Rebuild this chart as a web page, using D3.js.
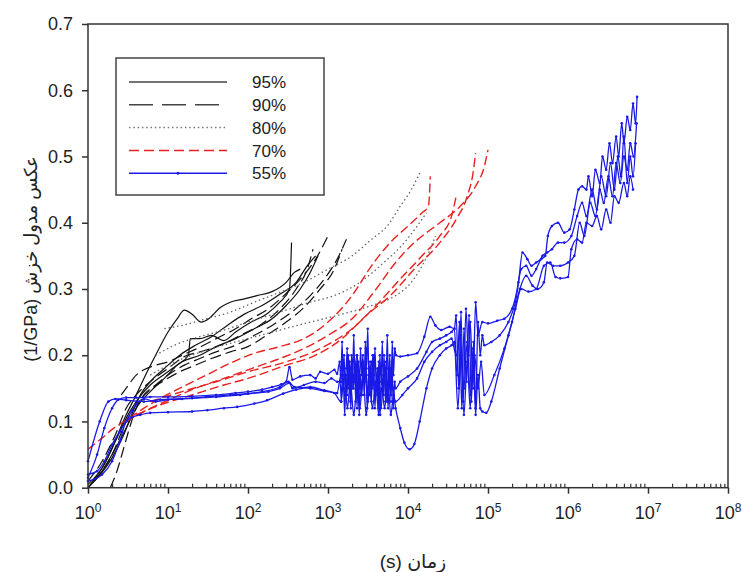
<!DOCTYPE html>
<html>
<head>
<meta charset="utf-8">
<script src="https://cdn.jsdelivr.net/npm/d3@7"></script>
<style>
  body { margin: 0; background: #fff; }
  text { font-family: "Liberation Sans", Arial, "DejaVu Sans", sans-serif; fill: #222; }
</style>
</head>
<body>
<svg id="chart"></svg>
<script>
// tick values
const xTickPowers = [0, 1, 2, 3, 4, 5, 6, 7, 8];
const yTickValues = [0, 0.1, 0.2, 0.3, 0.4, 0.5, 0.6, 0.7];
const legendLabels = ['95%', '90%', '80%', '70%', '55%'];

// each series: list of curves, each curve = [time (s), compliance (1/GPa)]
const rh95 = [
    [[1,0],[1.5,0.03],[2,0.06],[3,0.11],[4,0.14],[5,0.165],[7,0.2],[10,0.235],[13,0.255],[16,0.268],[20,0.262],[26,0.25],[33,0.256],[45,0.272],[60,0.28],[90,0.285],[130,0.29],[200,0.296],[300,0.31],[380,0.325],[450,0.33]],
    [[1,0],[1.5,0.025],[2,0.05],[3,0.09],[4,0.12],[6,0.145],[9,0.165],[13,0.185],[18,0.2],[19,0.225],[25,0.225],[35,0.23],[50,0.222],[70,0.235],[110,0.25],[170,0.262],[250,0.28],[330,0.3],[350,0.37]],
    [[1,0.005],[1.6,0.035],[2.2,0.07],[3,0.105],[4,0.13],[6,0.155],[10,0.175],[15,0.19],[25,0.2],[40,0.213],[70,0.225],[120,0.24],[200,0.255],[300,0.275],[450,0.3],[600,0.325],[750,0.35]],
    [[1,0],[2,0.045],[2.8,0.08],[3.5,0.11],[4.5,0.14],[6,0.16],[9,0.18],[14,0.2],[22,0.215],[35,0.228],[55,0.245],[90,0.262],[150,0.275],[250,0.292],[400,0.31],[550,0.335],[700,0.35]]
];
const rh90 = [
    [[1.9,0],[2.3,0.025],[2.8,0.06],[3.3,0.09],[4,0.12],[5,0.14],[7,0.155],[10,0.17],[16,0.185],[25,0.195],[40,0.205],[70,0.215],[120,0.23],[200,0.245],[350,0.265],[600,0.29],[900,0.315],[1300,0.345],[1700,0.375]],
    [[2.6,0.14],[3.2,0.155],[4,0.17],[5,0.178],[7,0.185],[10,0.19],[15,0.2],[25,0.212],[40,0.225],[70,0.24],[110,0.255],[180,0.27],[280,0.29],[450,0.315],[700,0.345],[1000,0.38]],
    [[1.2,0.01],[2,0.05],[3,0.1],[4,0.125],[6,0.148],[9,0.162],[14,0.175],[22,0.185],[35,0.195],[60,0.205],[100,0.213],[170,0.23],[300,0.25],[500,0.272],[800,0.3],[1200,0.33],[1500,0.36]],
    [[1,0.01],[1.5,0.04],[2.2,0.08],[3,0.12],[4,0.14],[6,0.16],[10,0.18],[16,0.198],[25,0.205],[45,0.215],[80,0.23],[140,0.245],[250,0.27],[400,0.3],[550,0.33],[650,0.36]]
];
const rh80 = [
    [[9,0.24],[15,0.245],[30,0.255],[60,0.265],[120,0.28],[250,0.295],[500,0.31],[1000,0.33],[2000,0.35],[3500,0.375],[5500,0.395],[8000,0.425],[11000,0.45],[14000,0.475]],
    [[7,0.2],[12,0.215],[25,0.228],[50,0.238],[100,0.25],[250,0.265],[600,0.28],[1200,0.29],[2500,0.31],[5000,0.34],[9000,0.37],[13000,0.395],[17000,0.415]],
    [[6,0.17],[10,0.185],[20,0.2],[40,0.212],[100,0.225],[250,0.238],[600,0.25],[1500,0.262],[3500,0.275],[7000,0.29],[11000,0.31],[15000,0.335],[19000,0.36],[22000,0.38]]
];
const rh70 = [
    [[1,0.058],[1.5,0.075],[2,0.088],[3,0.102],[5,0.12],[8,0.135],[15,0.152],[30,0.17],[60,0.188],[120,0.203],[250,0.213],[500,0.225],[1000,0.25],[2000,0.29],[3500,0.335],[6000,0.37],[10000,0.395],[15000,0.415],[18000,0.425],[19000,0.47]],
    [[3,0.1],[5,0.115],[10,0.132],[20,0.148],[50,0.165],[100,0.178],[250,0.195],[500,0.21],[1000,0.23],[2000,0.255],[4000,0.3],[7000,0.34],[12000,0.37],[25000,0.4],[45000,0.425],[70000,0.455],[90000,0.485],[100000,0.51]],
    [[4,0.11],[8,0.125],[20,0.14],[50,0.155],[100,0.165],[300,0.185],[700,0.2],[1500,0.225],[3000,0.26],[6000,0.29],[12000,0.33],[25000,0.37],[40000,0.405],[55000,0.44],[65000,0.475],[70000,0.505]],
    [[6,0.13],[15,0.145],[40,0.16],[100,0.175],[300,0.19],[800,0.21],[2000,0.24],[4000,0.275],[8000,0.315],[15000,0.35],[25000,0.38],[35000,0.41],[40000,0.44]]
];
const rh55 = [
    [[1,0.015],[1.3,0.05],[1.6,0.09],[2,0.12],[2.4,0.133],[3,0.136],[4,0.136],[6,0.137],[10,0.137],[20,0.138],[40,0.14],[70,0.143],[100,0.145],[150,0.148],[200,0.152],[260,0.156],[300,0.16],[330,0.182],[360,0.163],[450,0.168],[600,0.17],[700,0.165],[800,0.175],[1000,0.172],[1200,0.178],[1300,0.172],
     [1400,0.19],[1450,0.16],[1500,0.22],[1540,0.17],[1590,0.2],[1640,0.14],[1690,0.18],[1740,0.21],[1790,0.15],[1850,0.19],[1910,0.13],[1970,0.2],[2030,0.17],[2100,0.23],[2170,0.16],[2240,0.18],[2310,0.12],[2390,0.19],[2470,0.15],[2550,0.21],[2640,0.17],[2730,0.2],[2830,0.14],[2930,0.22],[3030,0.18],[3140,0.24],[3250,0.16],[3370,0.19],[3490,0.13],[3610,0.2],[3740,0.17],[3870,0.21],[4010,0.15],[4150,0.18],[4300,0.12],[4450,0.2],[4610,0.16],[4780,0.22],[4950,0.14],[5130,0.19],[5320,0.16],[5510,0.23],[5710,0.15],[5920,0.2],[6130,0.13],[6350,0.22],[6580,0.17],[6820,0.21],[7100,0.2],
     [8000,0.198],[1e4,0.2],[1.3e4,0.203],[1.6e4,0.228],[1.9e4,0.258],[2.2e4,0.245],[2.6e4,0.238],[3.3e4,0.243],[3.8e4,0.24],
     [4e4,0.26],[4.3e4,0.15],[4.6e4,0.265],[4.9e4,0.13],[5.3e4,0.27],[5.7e4,0.2],[6e4,0.25],[6.5e4,0.15],[7e4,0.28],[7.5e4,0.23],[8.5e4,0.25],
     [1e5,0.248],[1.3e5,0.252],[1.6e5,0.255],[2e5,0.27],[2.4e5,0.31],[2.7e5,0.355],[3.1e5,0.345],[3.5e5,0.335],[4e5,0.34],[4.6e5,0.345],[5.2e5,0.35],[5.6e5,0.38],[6.3e5,0.395],[7.5e5,0.4],[9e5,0.385],[1.05e6,0.39],[1.2e6,0.42],[1.35e6,0.45],[1.5e6,0.455],[1.7e6,0.45],[1.8e6,0.47],[2e6,0.44],[2.2e6,0.48],[2.5e6,0.46],[2.7e6,0.5],[3e6,0.48],[3.3e6,0.52],[3.6e6,0.49],[4e6,0.53],[4.3e6,0.5],[4.7e6,0.55],[5e6,0.52],[5.5e6,0.56],[6e6,0.54],[6.5e6,0.58],[7e6,0.55],[7.3e6,0.59]],
    [[1,0.04],[1.4,0.1],[1.8,0.13],[2.2,0.134],[3,0.132],[5,0.13],[8,0.133],[15,0.134],[30,0.137],[60,0.14],[100,0.142],[180,0.145],[250,0.15],[330,0.158],[360,0.15],[500,0.155],[700,0.16],[900,0.158],[1100,0.165],[1300,0.16],
     [1420,0.16],[1470,0.13],[1520,0.18],[1570,0.15],[1620,0.11],[1680,0.17],[1730,0.14],[1800,0.2],[1860,0.16],[1930,0.12],[2000,0.18],[2070,0.15],[2140,0.19],[2220,0.13],[2300,0.2],[2380,0.16],[2460,0.11],[2550,0.17],[2650,0.14],[2750,0.19],[2860,0.16],[2970,0.21],[3080,0.12],[3200,0.17],[3320,0.14],[3450,0.18],[3580,0.15],[3720,0.2],[3860,0.12],[4000,0.16],[4160,0.14],[4320,0.19],[4490,0.11],[4660,0.17],[4840,0.15],[5030,0.2],[5220,0.13],[5420,0.18],[5630,0.12],[5850,0.17],[6080,0.14],[6310,0.19],[6550,0.12],[6800,0.16],[7000,0.15],
     [8000,0.16],[1e4,0.168],[1.3e4,0.18],[1.7e4,0.205],[2e4,0.22],[2.5e4,0.225],[3e4,0.23],[3.5e4,0.235],
     [3.8e4,0.24],[4.1e4,0.17],[4.4e4,0.25],[4.7e4,0.12],[5e4,0.24],[5.4e4,0.16],[5.8e4,0.26],[6.2e4,0.13],[6.6e4,0.22],[7e4,0.12],[7.5e4,0.25],[8e4,0.2],[8.5e4,0.23],
     [9e4,0.215],[1.1e5,0.22],[1.4e5,0.23],[1.8e5,0.25],[2.2e5,0.28],[2.6e5,0.33],[3e5,0.335],[3.5e5,0.32],[4e5,0.33],[4.8e5,0.35],[5.5e5,0.355],[6.3e5,0.36],[7.5e5,0.37],[9e5,0.37],[1.1e6,0.38],[1.3e6,0.41],[1.5e6,0.43],[1.7e6,0.41],[2e6,0.45],[2.3e6,0.42],[2.6e6,0.47],[3e6,0.44],[3.4e6,0.49],[3.8e6,0.45],[4.2e6,0.5],[4.6e6,0.47],[5e6,0.53],[5.5e6,0.46],[6e6,0.5],[6.5e6,0.47],[7e6,0.52]],
    [[1,0.01],[1.5,0.02],[2,0.04],[2.5,0.07],[3,0.1],[3.5,0.106],[4.5,0.11],[6,0.113],[10,0.114],[20,0.115],[31,0.117],[50,0.12],[73,0.122],[120,0.127],[173,0.132],[275,0.142],[400,0.148],[600,0.152],[900,0.147],[1200,0.143],
     [1450,0.13],[1600,0.17],[1750,0.12],[1900,0.16],[2100,0.11],[2300,0.15],[2500,0.12],[2750,0.17],[3000,0.11],[3300,0.15],[3600,0.12],[3950,0.16],[4300,0.11],[4700,0.15],[5100,0.12],[5600,0.16],[6100,0.11],[6600,0.14],[7000,0.12],
     [8000,0.09],[9000,0.068],[1.05e4,0.058],[1.2e4,0.066],[1.4e4,0.1],[1.7e4,0.15],[2e4,0.18],[2.5e4,0.2],[3e4,0.21],[3.5e4,0.215],
     [3.8e4,0.22],[4.2e4,0.12],[4.6e4,0.2],[5e4,0.11],[5.5e4,0.19],[6e4,0.12],[6.5e4,0.21],[7e4,0.11],[7.5e4,0.17],[8e4,0.12],[8.5e4,0.115],
     [9.5e4,0.113],[1.1e5,0.13],[1.4e5,0.18],[1.8e5,0.23],[2.2e5,0.27],[2.6e5,0.3],[3.2e5,0.296],[4e5,0.3],[5e5,0.335],[6e5,0.34],[7e5,0.318],[8e5,0.316],[1e6,0.318],[1.1e6,0.36],[1.3e6,0.375],[1.5e6,0.37],[1.7e6,0.4],[2e6,0.395],[2.3e6,0.41],[2.6e6,0.39],[3e6,0.42],[3.4e6,0.4],[3.8e6,0.44],[4.3e6,0.43],[5e6,0.46],[5.5e6,0.44],[6e6,0.47],[6.5e6,0.45]],
    [[1,0.02],[1.3,0.025],[1.6,0.04],[2,0.065],[2.5,0.085],[3,0.1],[3.5,0.115],[4,0.126],[5,0.134],[7,0.13],[10,0.133],[20,0.135],[40,0.137],[80,0.14],[150,0.145],[250,0.152],[320,0.16],[380,0.152],[600,0.15],[900,0.146],[1300,0.143],
     [1450,0.17],[1650,0.14],[1850,0.19],[2050,0.15],[2300,0.2],[2550,0.14],[2850,0.18],[3150,0.13],[3500,0.19],[3850,0.14],[4200,0.18],[4600,0.12],[5000,0.17],[5500,0.13],[6000,0.18],[6500,0.15],[7000,0.13],
     [8500,0.14],[1e4,0.15],[1.3e4,0.165],[1.6e4,0.19],[2e4,0.205],[2.5e4,0.215],[3e4,0.22],
     [3.5e4,0.225],[4e4,0.2],[4.5e4,0.23],[5e4,0.15],[5.5e4,0.22],[6e4,0.14],[6.8e4,0.2],[7.5e4,0.15],[8.2e4,0.19],[9e4,0.14],
     [1.2e5,0.17],[1.6e5,0.21],[2e5,0.25],[2.5e5,0.3],[3e5,0.32],[3.6e5,0.305],[4.2e5,0.3],[5e5,0.31],[5.5e5,0.34],[6.5e5,0.335],[8e5,0.335],[1e6,0.34],[1.2e6,0.35],[1.4e6,0.4],[1.6e6,0.38],[1.9e6,0.43],[2.2e6,0.41],[2.5e6,0.45],[2.8e6,0.43],[3.2e6,0.47],[3.6e6,0.44],[4e6,0.49],[4.5e6,0.46],[5e6,0.5],[5.5e6,0.48],[6e6,0.52],[6.6e6,0.5],[7.2e6,0.55]]
];

const W = 742, H = 572;
const plot = { left: 88, right: 728, top: 24, bottom: 487.7 };

const svg = d3.select('#chart').attr('width', W).attr('height', H);

const x = d3.scaleLog().domain([1, 1e8]).range([plot.left, plot.right]);
const y = d3.scaleLinear().domain([0, 0.7]).range([plot.bottom, plot.top]);

// series styles, drawn in legend order so blue ends on top
const series = [
    { curves: rh95, color: '#111', dash: null, width: 1.2, legendColor: '#444' },
    { curves: rh90, color: '#111', dash: '11,5', width: 1.2, legendDash: '24,9', legendColor: '#444' },
    { curves: rh80, color: '#666', dash: '1.5,2.8', width: 1.3, legendColor: '#777' },
    { curves: rh70, color: '#e8211f', dash: '9,4', width: 1.4, legendDash: '10,5', legendColor: '#e8211f' },
    { curves: rh55, color: '#1a1ae6', dash: null, width: 1.3, marker: true, legendColor: '#1a1ae6' }
];

const line = d3.line()
    .x(d => x(d[0]))
    .y(d => y(d[1]))
    .curve(d3.curveMonotoneX);

const plotG = svg.append('g');

series.forEach(s => {
    const g = plotG.append('g');
    g.selectAll('path')
        .data(s.curves)
        .enter()
        .append('path')
        .attr('d', line)
        .attr('fill', 'none')
        .attr('stroke', s.color)
        .attr('stroke-width', s.width)
        .attr('stroke-dasharray', s.dash)
        .attr('stroke-linejoin', 'round');

    // small point markers on the 55% curves
    if (s.marker) {
        g.selectAll('.curve')
            .data(s.curves)
            .enter()
            .append('g')
            .selectAll('circle')
            .data(d => d)
            .enter()
            .append('circle')
            .attr('cx', d => x(d[0]))
            .attr('cy', d => y(d[1]))
            .attr('r', 1.3)
            .attr('fill', s.color);
    }
});

// frame
svg.append('rect')
    .attr('x', plot.left)
    .attr('y', plot.top)
    .attr('width', plot.right - plot.left)
    .attr('height', plot.bottom - plot.top)
    .attr('fill', 'none')
    .attr('stroke', '#333')
    .attr('stroke-width', 1.5);

// y axis
const yAxis = svg.append('g')
    .attr('transform', `translate(${plot.left},0)`)
    .call(d3.axisLeft(y).tickValues(yTickValues).tickSize(6).tickPadding(9).tickFormat(d3.format('.1f')));
yAxis.select('.domain').remove();
yAxis.selectAll('line').attr('stroke', '#333').attr('stroke-width', 1.5);
yAxis.selectAll('text').style('font-size', '18px').attr('fill', '#222');

// x axis: major ticks outward, minor ticks inward
const majors = xTickPowers.map(p => Math.pow(10, p));
const minors = [];
xTickPowers.slice(0, -1).forEach(p => {
    for (let k = 2; k <= 9; k++) minors.push(k * Math.pow(10, p));
});

const xAxis = svg.append('g')
    .attr('transform', `translate(0,${plot.bottom})`)
    .call(d3.axisBottom(x).tickValues(majors).tickSize(6).tickFormat(''));
xAxis.select('.domain').remove();
xAxis.selectAll('line').attr('stroke', '#333').attr('stroke-width', 1.5);

const xMinor = svg.append('g')
    .attr('transform', `translate(0,${plot.bottom})`)
    .call(d3.axisBottom(x).tickValues(minors).tickSize(-4).tickFormat(''));
xMinor.select('.domain').remove();
xMinor.selectAll('line').attr('stroke', '#333').attr('stroke-width', 1.2);

const xLabels = svg.append('g').selectAll('text')
    .data(xTickPowers)
    .enter()
    .append('text')
    .attr('x', p => x(Math.pow(10, p)))
    .attr('y', 519)
    .attr('text-anchor', 'middle')
    .style('font-size', '18px');
xLabels.append('tspan').text('10');
xLabels.append('tspan')
    .attr('dy', -7)
    .style('font-size', '12px')
    .text(p => p);

// axis titles
svg.append('text')
    .attr('x', 413)
    .attr('y', 568)
    .attr('text-anchor', 'middle')
    .style('font-size', '19px')
    .text('(s) زمان');

svg.append('text')
    .attr('transform', 'translate(37,259) rotate(-90)')
    .attr('text-anchor', 'middle')
    .style('font-size', '18px')
    .text('(1/GPa) عکس مدول خزش');

// legend
const legend = svg.append('g');
legend.append('rect')
    .attr('x', 116)
    .attr('y', 58)
    .attr('width', 208)
    .attr('height', 137)
    .attr('fill', '#fff')
    .attr('stroke', '#444')
    .attr('stroke-width', 1.5);

const items = legend.selectAll('.item')
    .data(series)
    .enter()
    .append('g')
    .attr('transform', (d, i) => `translate(0,${82 + i * 22.8})`);

items.append('line')
    .attr('x1', 129)
    .attr('x2', 227)
    .attr('stroke', d => d.legendColor)
    .attr('stroke-width', 1.5)
    .attr('stroke-dasharray', d => d.legendDash || d.dash);

items.filter(d => d.marker)
    .append('circle')
    .attr('cx', 178)
    .attr('r', 1.5)
    .attr('fill', d => d.legendColor);

items.append('text')
    .attr('x', 252)
    .attr('dy', '0.36em')
    .style('font-size', '17px')
    .text((d, i) => legendLabels[i]);
</script>
</body>
</html>
